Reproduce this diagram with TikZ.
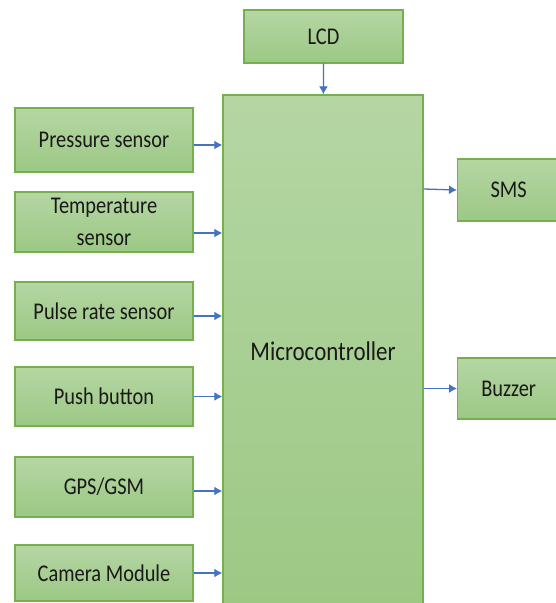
\documentclass[tikz,border=0pt]{standalone}
\usepackage{fontspec}
\setmainfont[FakeStretch=0.85]{Carlito}
\usepackage{xcolor}
\usepackage{tikz}
\usetikzlibrary{shapes,arrows,arrows.meta,positioning,calc}

\definecolor{boxtop}{RGB}{181,214,164}
\definecolor{boxbot}{RGB}{156,200,132}
\definecolor{boxline}{RGB}{118,176,78}
\definecolor{arrowblue}{RGB}{68,114,196}

\begin{document}
\begin{tikzpicture}[
    x=1pt, y=-1pt,
    font=\fontsize{24}{32}\selectfont,
    blockbox/.style={rectangle, draw=boxline, line width=1.4pt, top color=boxtop, bottom color=boxbot, inner sep=0pt, align=center, text=black!90},
    sensorbox/.style={blockbox, minimum width=178, minimum height=60},
    arrow/.style={-{Latex[length=8pt,width=9pt]}, line width=1.3pt, draw=arrowblue}
]
    \useasboundingbox (0,0) rectangle (556,603);

    \node (mcu) [blockbox, minimum width=200, minimum height=512] at (323,351) {\fontsize{27}{32}\selectfont Microcontroller};
    \node (lcd) [blockbox, minimum width=159, minimum height=53] at (323.5,36.5) {LCD};

    \node (press) [sensorbox, minimum height=64] at (104,140) {Pressure sensor};
    \node (temp) [sensorbox] at (104,222) {Temperature\\sensor};
    \node (pulse) [sensorbox, minimum height=58] at (104,311) {Pulse rate sensor};
    \node (push) [sensorbox, minimum height=59] at (104,396.5) {Push button};
    \node (gps) [sensorbox] at (104,487) {GPS/GSM};
    \node (cam) [sensorbox, minimum height=56] at (104,573) {Camera Module};

    \node (sms) [blockbox, minimum width=102, minimum height=62, anchor=west] at (457,190) {SMS};
    \node (buzz) [blockbox, minimum width=102, minimum height=61, anchor=west] at (457,388.5) {Buzzer};

    \draw [arrow] (lcd) -- (mcu);
    \draw [arrow] ([yshift=-5pt]press.east) -- ([yshift=-5pt]press.east -| mcu.west);
    \draw [arrow] ([yshift=-11pt]temp.east) -- ([yshift=-11pt]temp.east -| mcu.west);
    \draw [arrow] ([yshift=-5pt]pulse.east) -- ([yshift=-5pt]pulse.east -| mcu.west);
    \draw [arrow] (push.east) -- (push.east -| mcu.west);
    \draw [arrow] ([yshift=-4pt]gps.east) -- ([yshift=-4pt]gps.east -| mcu.west);
    \draw [arrow] (cam.east) -- (cam.east -| mcu.west);
    \draw [arrow] ([yshift=1pt]sms.west -| mcu.east) -- (sms.west);
    \draw [arrow] (buzz.west -| mcu.east) -- (buzz.west);
\end{tikzpicture}
\end{document}
